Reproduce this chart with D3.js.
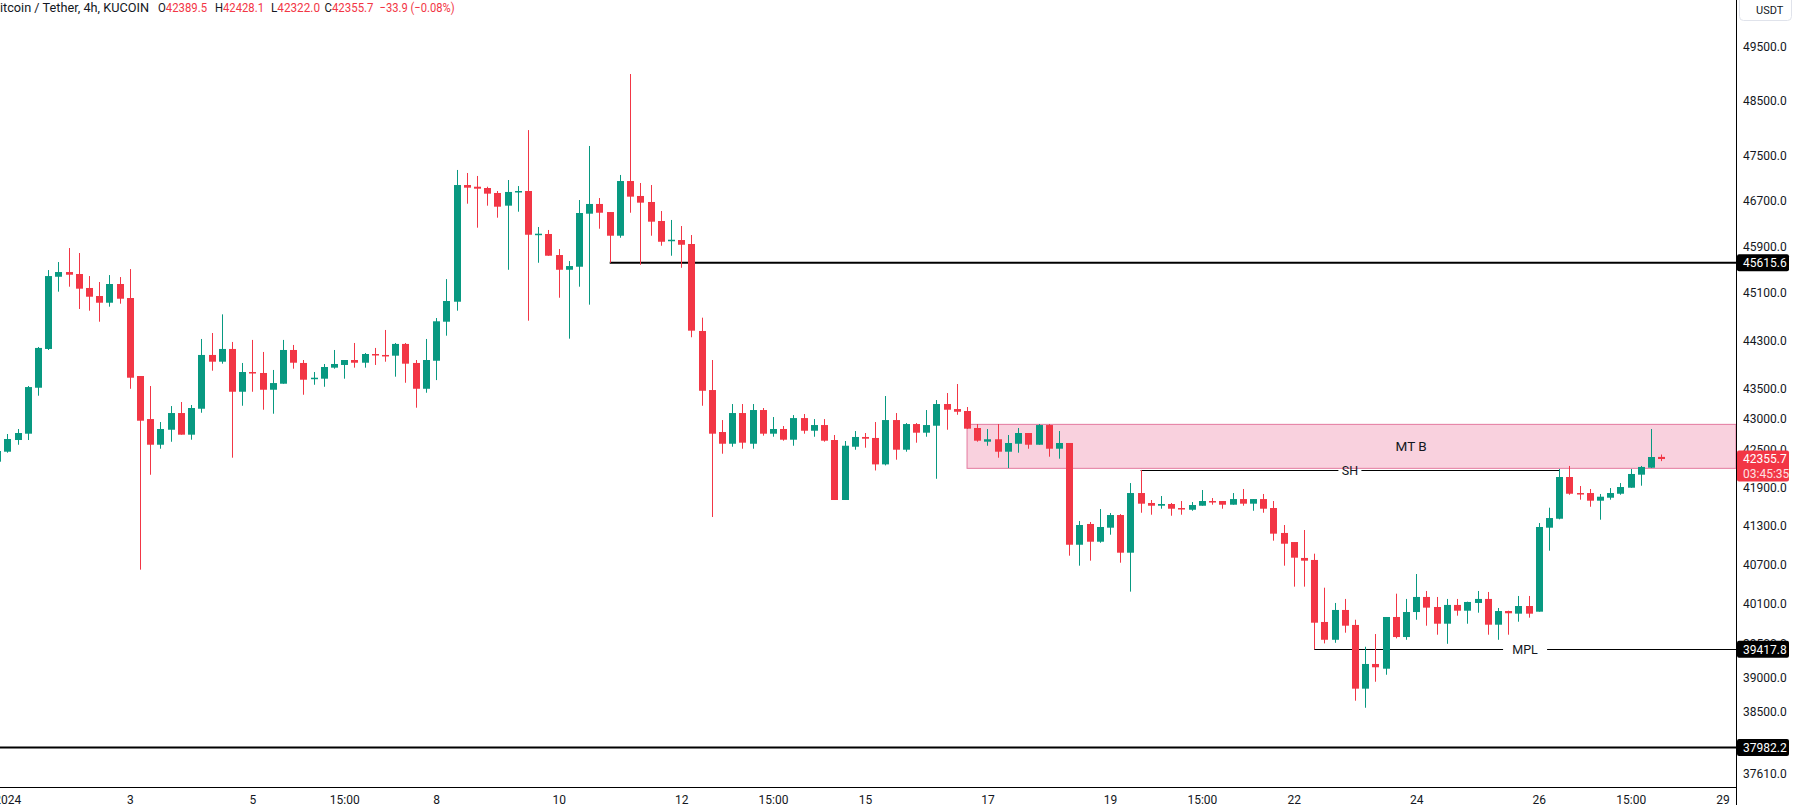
<!DOCTYPE html>
<html><head><meta charset="utf-8">
<script src="https://cdn.jsdelivr.net/npm/d3@7/dist/d3.min.js"></script>
<style>html,body{margin:0;padding:0;background:#fff;overflow:hidden}svg{display:block}</style>
</head><body>
<svg id="chart" width="1793" height="805"></svg>
<script>
// ---------- DATA (4h candles, KuCoin BTC/USDT, index 0 = 1 Jan 2024 00:00 UTC) ----------
const firstIndex = -1;
const openVals = [42313,
42473,42661,42763,43512,44154,45375,45456,45422,45183,45046,44932,45251,45012,43705,43000,42585,42827,43098,42747,43168,
44054,43942,44154,43446,43771,43755,43479,43578,44137,43921,43661,43661,43843,43888,43970,43925,44070,44054,44042,44238,
43921,43495,43958,44611,44949,46975,46945,46922,46834,46610,46852,46869,46101,46114,45749,45495,45547,46469,46640,46498,
46084,47046,46781,46675,46341,45997,46009,45940,44455,43474,42790,42601,43098,42601,43147,42763,42839,42666,43016,42811,
42903,42661,41705,42553,42710,42694,42270,42984,42505,42919,42779,42892,43245,43163,43131,42855,42634,42673,42473,42601,
42774,42585,42903,42521,42613,41006,41329,41053,41271,41469,40883,41815,41658,41615,41642,41579,41552,41615,41689,41689,
41631,41720,41647,41720,41579,41189,41048,40802,40771,39827,39560,40008,39782,38836,39200,39130,39902,39601,39977,40205,
40053,39801,40084,39997,40114,40175,39786,39992,39952,40068,39982,41271,41411,42069,41815,41815,41694,41741,41804,41899,
42106,42217,42389.5];
const highVals = [42484,
42758,42839,43540,44187,45490,45628,45870,45784,45387,45285,45404,45370,45507,43705,43540,42952,43212,43278,43229,44321,
44421,44735,44271,43921,44305,44104,43805,44305,44221,43970,43771,43904,44137,43970,44254,44087,44171,44472,44254,44254,
43970,44321,44673,45335,47243,47189,47136,46945,46869,47064,46957,47960,46236,46184,45853,45645,46710,47673,46745,46498,
47154,48987,47011,46975,46516,46359,46253,46096,44679,43970,42984,43245,43245,43245,43180,43033,42887,43065,43082,43000,
43000,42742,42645,42806,42774,42952,43376,43098,42935,42935,43147,43310,43425,43573,43196,42919,42839,42919,42742,42855,
42774,42919,42919,42806,42613,41375,41360,41563,41500,41484,41973,42181,41705,41768,41658,41689,41673,41863,41736,41689,
41815,41879,41720,41800,41689,41313,41048,41235,40868,40346,40114,40175,39861,39456,39646,39902,40255,40175,40555,40296,
40205,40175,40175,40134,40296,40281,40038,39997,40220,40220,41344,41584,42197,42245,41926,41879,41800,41894,41973,42197,
42245,42839,42428.1];
const lowVals = [42313,
42457,42585,42661,43381,44137,45120,45205,44826,44797,44611,44865,44916,43495,40622,42105,42521,42633,42747,42666,43103,
43793,43909,42377,43217,43446,43152,43087,43578,43826,43397,43561,43528,43826,43661,43843,43843,43888,43942,43694,43594,
43185,43430,43638,44376,44797,46645,46224,46610,46399,45495,46504,44628,45616,45737,45017,44326,45205,44899,46206,45615.6,
46049,46486,45581,46084,45910,45737,45529,44350,43217,41438,42441,42553,42521,42521,42731,42714,42650,42569,42763,42714,
42634,41705,41705,42505,42537,42173,42254,42345,42473,42618,42714,42041,42827,43070,42839,42634,42569,42377,42212,42457,
42521,42585,42393,42361,40837,40683,40760,41037,41162,40729,40286,41505,41474,41568,41458,41474,41536,41615,41631,41568,
41631,41615,41536,41505,41069,40683,40362,40362,39417.8,39506,39515,39666,38660,38557,38938,39041,39581,39560,39861,39771,
39636,39500,39922,39801,39967,39636,39560,39636,39831,39892,39982,40914,41402,41788,41710,41599,41396,41710,41788,41899,
41931,42212,42322.0];
const closeVals = [42484,
42677,42774,43523,44171,45387,45456,45410,45171,45034,44932,45251,45000,43677,42973,42585,42839,43098,42747,43180,44054,
43942,44154,43446,43771,43760,43479,43589,44137,43925,43644,43677,43854,43904,43970,43925,44070,44054,44037,44238,43909,
43495,43970,44618,44961,46975,46928,46910,46822,46592,46852,46869,46101,46119,45737,45495,45559,46481,46640,46486,46084,
47046,46769,46663,46329,45979,46014,45927,44460,43462,42763,42601,43098,42618,43147,42763,42839,42666,43016,42811,42903,
42650,41705,42569,42710,42682,42270,42984,42505,42919,42779,42903,43245,43152,43119,42844,42650,42673,42473,42613,42774,
42585,42903,42521,42613,41006,41313,41053,41282,41469,40883,41815,41647,41615,41642,41568,41568,41626,41689,41678,41631,
41720,41647,41720,41568,41178,41022,40806,40760,39816,39560,40008,39771,38836,39200,39151,39902,39601,39977,40205,40043,
39801,40084,39997,40129,40175,39786,39992,39958,40068,39952,41282,41422,42069,41804,41800,41694,41757,41815,41910,42117,
42229,42388,42355.7];

const priceTicks = [49500, 48500, 47500, 46700, 45900, 45100, 44300, 43500, 43000, 42500, 41900, 41300, 40700, 40100, 39500, 39000, 38500, 38010, 37610];
const timeTickLabels = ["2024","3","5","15:00","8","10","12","15:00","15","17","19","15:00","22","24","26","15:00","29"];
const timeTickIndex  = [0, 12, 24, 33, 42, 54, 66, 75, 84, 96, 108, 117, 126, 138, 150, 159, 168];

const resistanceLevel = 45615.6, resistanceFrom = 59;
const supportLevel = 37982.2;
const mplLevel = 39417.8, mplFrom = 128;
const shLevel = 42181, shFrom = 111, shTo = 152;
const zoneTop = 42914, zoneBottom = 42207, zoneFrom = 94, zoneLabelAt = 137.5;
const header = {symbol: "Bitcoin / Tether, 4h, KUCOIN", o: "42389.5", h: "42428.1", l: "42322.0", c: "42355.7", chg: "\u221233.9 (\u22120.08%)"};
const countdown = "03:45:35";

// ---------- LAYOUT ----------
const W = 1793, H = 805;
const plotRight = 1736, plotBottom = 786.7;
const UP = "#089981", DOWN = "#F23645", TXT = "#131722";
const FONT = "Roboto, 'Liberation Sans', sans-serif";

const svg = d3.select("#chart");
const x = d3.scaleLinear().domain([0, 162]).range([7.3, 7.3 + 162 * 10.21]);
const y = d3.scaleLog().domain([37424, 50376]).range([plotBottom, 0]);

const candles = openVals.map((o, i) => ({i: i + firstIndex, o, h: highVals[i], l: lowVals[i], c: closeVals[i]}));

svg.append("rect").attr("width", W).attr("height", H).attr("fill", "#fff");
svg.append("defs").append("clipPath").attr("id", "plot").append("rect")
  .attr("x", 0).attr("y", 0).attr("width", plotRight).attr("height", plotBottom);
const g = svg.append("g").attr("clip-path", "url(#plot)");

// zone
g.append("rect")
  .attr("x", x(zoneFrom)).attr("y", y(zoneTop))
  .attr("width", plotRight - x(zoneFrom)).attr("height", y(zoneBottom) - y(zoneTop))
  .attr("fill", "#f9d1de").attr("stroke", "#e3799f").attr("stroke-width", 1);
g.append("text").attr("x", x(zoneLabelAt)).attr("y", (y(zoneTop) + y(zoneBottom)) / 2)
  .attr("dy", "0.35em").attr("text-anchor", "middle").attr("font-family", FONT)
  .attr("font-size", 13.5).attr("fill", TXT).text("MT B");

// horizontal levels
g.append("line").attr("x1", x(resistanceFrom)).attr("x2", plotRight)
  .attr("y1", y(resistanceLevel)).attr("y2", y(resistanceLevel)).attr("stroke", "#000").attr("stroke-width", 2);
g.append("line").attr("x1", 0).attr("x2", plotRight)
  .attr("y1", y(supportLevel)).attr("y2", y(supportLevel)).attr("stroke", "#000").attr("stroke-width", 2);

function labeledLine(x1, x2, price, label, gap) {
  const yy = Math.round(y(price)) + 0.5, mid = (x1 + x2) / 2;
  g.append("line").attr("x1", x1).attr("x2", mid - gap / 2).attr("y1", yy).attr("y2", yy).attr("stroke", "#000").attr("stroke-width", 1);
  g.append("line").attr("x1", mid + gap / 2).attr("x2", x2).attr("y1", yy).attr("y2", yy).attr("stroke", "#000").attr("stroke-width", 1);
  g.append("text").attr("x", mid).attr("y", yy).attr("dy", "0.35em").attr("text-anchor", "middle")
    .attr("font-family", FONT).attr("font-size", 12.5).attr("fill", TXT).text(label);
}
labeledLine(x(shFrom), x(shTo), shLevel, "SH", 23);
labeledLine(x(mplFrom), plotRight, mplLevel, "MPL", 44);

// candles
const cg = g.append("g");
cg.selectAll("rect.wick").data(candles).join("rect").attr("class", "wick")
  .attr("x", d => Math.round(x(d.i)))
  .attr("y", d => y(d.h)).attr("width", 1)
  .attr("height", d => Math.max(1, y(d.l) - y(d.h)))
  .attr("fill", d => d.c >= d.o ? UP : DOWN);
cg.selectAll("rect.body").data(candles).join("rect").attr("class", "body")
  .attr("x", d => Math.round(x(d.i)) - 3)
  .attr("y", d => y(Math.max(d.o, d.c))).attr("width", 7)
  .attr("height", d => Math.max(1.5, Math.abs(y(d.o) - y(d.c))))
  .attr("fill", d => d.c >= d.o ? UP : DOWN);

// axes lines
svg.append("line").attr("x1", plotRight + 0.5).attr("x2", plotRight + 0.5).attr("y1", 0).attr("y2", H).attr("stroke", "#000");
svg.append("line").attr("x1", 0).attr("x2", plotRight).attr("y1", Math.round(plotBottom) + 0.5).attr("y2", Math.round(plotBottom) + 0.5).attr("stroke", "#000");

// price axis
const yAxis = d3.axisRight(y).tickValues(priceTicks).tickFormat(d3.format(".1f")).tickSize(0).tickPadding(0);
const ya = svg.append("g").attr("transform", `translate(${plotRight + 7},0)`).call(yAxis);
ya.select(".domain").remove();
ya.selectAll("text").attr("font-family", FONT).attr("font-size", 12).attr("fill", TXT);

// time axis
const xAxis = d3.axisBottom(x).tickValues(timeTickIndex).tickFormat((d, i) => timeTickLabels[i]).tickSize(0).tickPadding(0);
const xa = svg.append("g").attr("transform", `translate(0,${plotBottom + 6})`).call(xAxis);
xa.select(".domain").remove();
xa.selectAll("text").attr("font-family", FONT).attr("font-size", 12).attr("fill", TXT).attr("dy", "0.9em");

// price labels on axis
function priceTag(price, bg, h) {
  const yy = y(price);
  svg.append("rect").attr("x", plotRight + 1).attr("y", yy - 8.5).attr("width", 52).attr("height", h).attr("rx", 2).attr("fill", bg);
  svg.append("text").attr("x", plotRight + 7).attr("y", yy).attr("dy", "0.35em").attr("font-family", FONT)
    .attr("font-size", 12).attr("fill", "#fff").text(d3.format(".1f")(price));
}
priceTag(resistanceLevel, "#000", 17);
priceTag(mplLevel, "#000", 17);
priceTag(supportLevel, "#000", 17);
const last = candles[candles.length - 1];
priceTag(last.c, DOWN, 31);
svg.append("text").attr("x", plotRight + 7).attr("y", y(last.c) + 15).attr("dy", "0.35em").attr("font-family", FONT)
  .attr("font-size", 12).attr("fill", "#fde0e3").text(countdown);

// USDT box
svg.append("rect").attr("x", 1739.5).attr("y", -5).attr("width", 52).attr("height", 25.5).attr("rx", 4)
  .attr("fill", "#fff").attr("stroke", "#e0e3eb");
svg.append("text").attr("x", 1756).attr("y", 10).attr("dy", "0.35em").attr("font-family", FONT)
  .attr("font-size", 11).attr("fill", TXT).text("USDT");

// header (widths fitted to the reference's narrower UI font)
svg.append("text").attr("x", -8).attr("y", 11.5).attr("font-family", FONT)
  .attr("font-size", 13).attr("fill", TXT).attr("textLength", 157).attr("lengthAdjust", "spacingAndGlyphs").text(header.symbol);
const parts = [["O", header.o, 158], ["H", header.h, 215], ["L", header.l, 271], ["C", header.c, 324.5]];
parts.forEach(([k, v, px]) => {
  const t = svg.append("text").attr("x", px).attr("y", 11.5).attr("font-family", FONT).attr("font-size", 13)
    .attr("textLength", 49).attr("lengthAdjust", "spacingAndGlyphs");
  t.append("tspan").attr("fill", TXT).text(k);
  t.append("tspan").attr("fill", DOWN).text(v);
});
svg.append("text").attr("x", 379.6).attr("y", 11.5).attr("font-family", FONT).attr("font-size", 13)
  .attr("textLength", 75).attr("lengthAdjust", "spacingAndGlyphs").attr("fill", DOWN).text(header.chg);
</script>
</body></html>
